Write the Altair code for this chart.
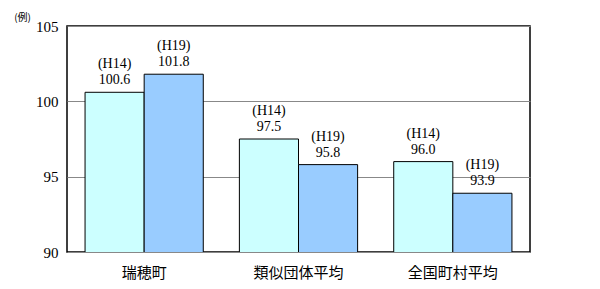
import altair as alt
import pandas as pd

categories = ["瑞穂町", "類似団体平均", "全国町村平均"]
years = ["H14", "H19"]
h14_values = [100.6, 97.5, 96.0]
h19_values = [101.8, 95.8, 93.9]

rows = []
for c, a, b in zip(categories, h14_values, h19_values):
    rows.append({"cat": c, "year": "H14", "value": a, "yl": "(H14)", "vl": f"{a:.1f}"})
    rows.append({"cat": c, "year": "H19", "value": b, "yl": "(H19)", "vl": f"{b:.1f}"})
df = pd.DataFrame(rows)

x = alt.X("cat:N", sort=categories, title=None,
          scale=alt.Scale(paddingInner=0.234, paddingOuter=0.117),
          axis=alt.Axis(labelAngle=0, labelFont="Noto Sans CJK JP", labelFontSize=15,
                        labelColor="#000", ticks=False, domain=False, labelPadding=13))
xo = alt.XOffset("year:N", sort=years, scale=alt.Scale(paddingInner=0, paddingOuter=0))
y = alt.Y("value:Q", scale=alt.Scale(domain=[90, 105], nice=False, zero=False),
          axis=alt.Axis(values=[90, 95, 100, 105], title="(例)", titleAngle=0,
                        titleX=-45, titleY=-9, titleAlign="center", titleBaseline="middle",
                        titleFont="Noto Sans CJK JP", titleFontSize=10, titleFontWeight="normal",
                        titleColor="#000",
                        labelFont="Liberation Serif", labelFontSize=15, labelColor="#000",
                        labelPadding=9, ticks=False, domain=False,
                        grid=True, gridColor="#888", gridWidth=1))

bars = alt.Chart(df).mark_bar(stroke="#000", strokeWidth=1, clip=True).encode(
    x=x, xOffset=xo, y=y,
    color=alt.Color("year:N", scale=alt.Scale(domain=years, range=["#CCFFFF", "#99CCFF"]), legend=None),
)

value_text = alt.Chart(df).mark_text(baseline="bottom", dy=-5,
                                     font="Liberation Serif", fontSize=14, color="#000").encode(
    x=alt.X("cat:N", sort=categories), xOffset=xo, y="value:Q", text="vl:N"
)
year_text = alt.Chart(df).mark_text(baseline="bottom", dy=-21,
                                    font="Liberation Serif", fontSize=14, color="#000").encode(
    x=alt.X("cat:N", sort=categories), xOffset=xo, y="value:Q", text="yl:N"
)

chart = alt.layer(bars, value_text, year_text).properties(
    width=463, height=226,
    background="#ffffff",
    autosize=alt.AutoSizeParams(type="none"),
    padding={"left": 67, "top": 26, "right": 70, "bottom": 37},
).configure_view(stroke="#000", strokeWidth=1.5)

chart.save("out.html", embed_options={"renderer": "svg", "actions": False})
